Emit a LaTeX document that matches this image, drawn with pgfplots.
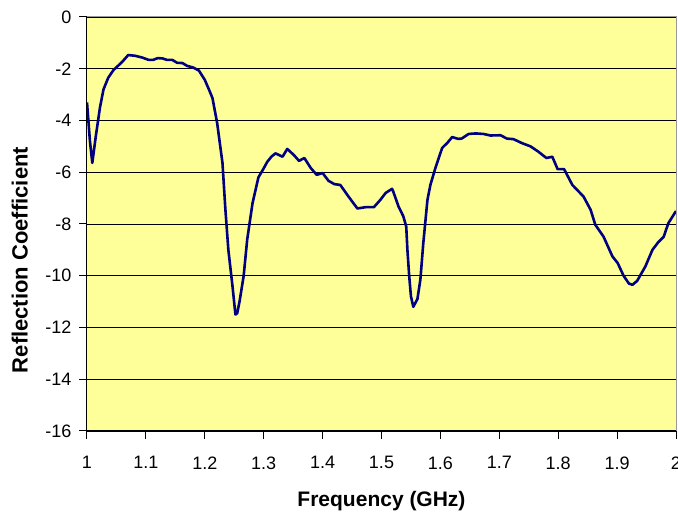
\documentclass[border=0pt]{standalone}
\usepackage{fontspec}
\setmainfont{Liberation Sans}
\usepackage{pgfplots}
\pgfplotsset{compat=1.18}
\definecolor{bgyellow}{RGB}{255,255,153}
\definecolor{navyline}{RGB}{0,0,128}
\begin{document}
\begin{tikzpicture}[x=1pt,y=1pt]
\path[use as bounding box] (-87,-85) rectangle (591,431);
\begin{axis}[
  at={(0,0)}, anchor=south west,
  scale only axis, width=589pt, height=414pt,
  xmin=1, xmax=2, ymin=-16, ymax=0,
  xtick={1,1.1,...,2.01}, ytick={-16,-14,...,0},
  xticklabels={1,1.1,1.2,1.3,1.4,1.5,1.6,1.7,1.8,1.9,2},
  /pgf/number format/assume math mode=true,
  ymajorgrids, grid style={black, line width=0.9pt},
  axis background/.style={fill=bgyellow},
  axis line style={black, line width=1pt},
  tick style={black, line width=1pt},
  tick align=outside, major tick length=8pt,
  xtick pos=bottom, ytick pos=left,
  tick label style={font=\fontsize{18}{18}\selectfont},
  xticklabel style={yshift=-14pt},
  yticklabel style={xshift=-4pt},
  xlabel={\textbf{Frequency (GHz)}},
  ylabel={\textbf{Reflection Coefficient}},
  xlabel style={font=\fontsize{21}{21}\selectfont, at={(axis description cs:0.5,-0.169)}, anchor=center},
  ylabel style={font=\fontsize{22}{22}\selectfont, at={(axis description cs:-0.114,0.413)}, anchor=center, rotate=0},
  clip=true,
]
\addplot[navyline, line width=2.6pt, line join=round] coordinates {
(1.000,-3.3) (1.005,-4.8) (1.009,-5.64) (1.015,-4.6) (1.022,-3.5) (1.028,-2.8)
(1.036,-2.35) (1.045,-2.05) (1.053,-1.88) (1.060,-1.73) (1.070,-1.47)
(1.082,-1.5) (1.094,-1.57) (1.105,-1.66) (1.112,-1.66) (1.120,-1.59) (1.128,-1.6)
(1.136,-1.66) (1.145,-1.66) (1.153,-1.77) (1.162,-1.78) (1.170,-1.89)
(1.180,-1.95) (1.190,-2.07) (1.200,-2.43) (1.207,-2.8) (1.213,-3.13)
(1.221,-4.1) (1.230,-5.64) (1.235,-7.45) (1.240,-9.0) (1.247,-10.4)
(1.252,-11.5) (1.255,-11.45) (1.259,-11.0) (1.266,-10.0) (1.272,-8.6)
(1.281,-7.2) (1.291,-6.2) (1.300,-5.85) (1.306,-5.6) (1.313,-5.4) (1.320,-5.27)
(1.332,-5.4) (1.340,-5.1) (1.351,-5.33) (1.360,-5.56) (1.369,-5.45)
(1.380,-5.84) (1.390,-6.1) (1.400,-6.03) (1.410,-6.33) (1.420,-6.46)
(1.430,-6.49) (1.444,-6.94) (1.459,-7.4) (1.473,-7.35) (1.487,-7.35)
(1.498,-7.07) (1.507,-6.8) (1.518,-6.64) (1.520,-6.75) (1.529,-7.33)
(1.537,-7.7) (1.542,-8.1) (1.544,-9.0) (1.547,-10.0) (1.550,-10.8)
(1.554,-11.2) (1.561,-10.9) (1.566,-10.15) (1.571,-8.73) (1.578,-7.07)
(1.583,-6.49) (1.592,-5.8) (1.603,-5.06) (1.612,-4.86) (1.620,-4.64)
(1.630,-4.71) (1.636,-4.7) (1.648,-4.52) (1.660,-4.5) (1.673,-4.52)
(1.685,-4.58) (1.702,-4.57) (1.713,-4.7) (1.724,-4.72) (1.739,-4.88)
(1.753,-5.0) (1.766,-5.2) (1.780,-5.45) (1.790,-5.4) (1.799,-5.88)
(1.810,-5.88) (1.824,-6.49) (1.843,-6.94) (1.855,-7.45) (1.863,-8.03)
(1.877,-8.49) (1.892,-9.25) (1.901,-9.51) (1.911,-10.0) (1.920,-10.3)
(1.926,-10.35) (1.934,-10.2) (1.948,-9.64) (1.960,-9.0) (1.970,-8.7)
(1.979,-8.5) (1.987,-7.97) (2.000,-7.5)
};
\end{axis}
\draw[gray!80, line width=1pt] (0,414) -- (589,414) -- (589,0);
\end{tikzpicture}
\end{document}
